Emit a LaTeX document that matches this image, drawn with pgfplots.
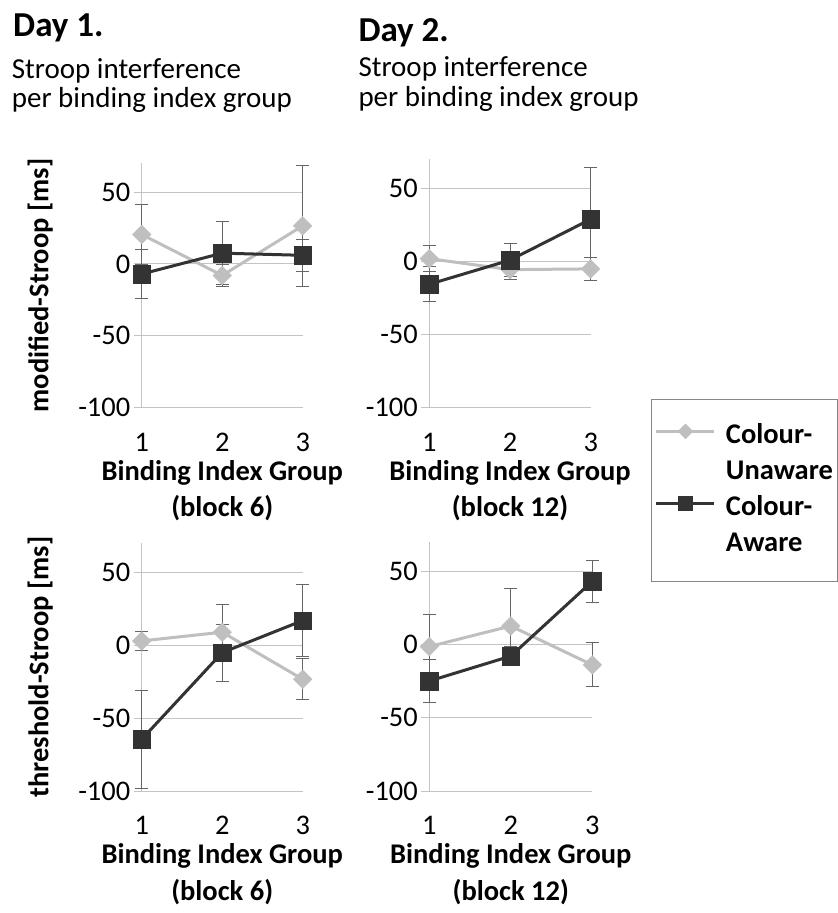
\documentclass[border=0pt]{standalone}
\usepackage{pgfplots}
\pgfplotsset{compat=1.18}
\usepackage{fontspec}
\setmainfont{Carlito}
\definecolor{lightc}{HTML}{BFBFBF}
\definecolor{darkc}{HTML}{333333}
\definecolor{gridc}{HTML}{C4C4C4}
\definecolor{errc}{HTML}{666666}
\definecolor{boxc}{HTML}{868686}

\pgfplotsset{
  panel/.style={
    scale only axis,
    xmin=1, xmax=3, ymin=-100, ymax=70,
    xtick={1,2,3}, xticklabels={1,2,3},
    ytick={-100,-50,0,50}, yticklabels={-100,-50,0,50},
    axis lines*=left,
    axis line style={draw=gridc, line width=1pt},
    ymajorgrids,
    grid style={draw=gridc, line width=1pt},
    tick align=outside,
    major tick length=8pt,
    ytick style={draw=gridc, line width=1pt},
    xtick style={draw=none},
    tick label style={font=\fontsize{28.4}{30}\selectfont},
    xticklabel style={yshift=-14pt},
    xlabel style={at={(axis description cs:0.5,0)}, anchor=north, align=center,
      font=\fontsize{28.5}{36.7}\selectfont\bfseries, yshift=-49pt},
    ylabel style={anchor=center, font=\fontsize{28.5}{30}\selectfont\bfseries},
    clip=false,
    legend image code/.code={%
      \draw[mark repeat=2,mark phase=2,#1,every mark/.append style={scale=0.8}]
        plot coordinates {(0pt,4pt) (29pt,4pt) (58pt,4pt)};},
  },
  unaware/.style={
    color=lightc, line width=3pt, mark=square*, mark size=6.6pt,
    mark options={solid, rotate=45, fill=lightc, draw=lightc, line width=0.4pt},
    error bars/.cd, y dir=both, y explicit,
    error bar style={draw=errc, line width=1pt},
    error mark options={rotate=90, draw=errc, line width=1pt, mark size=6.5pt},
  },
  aware/.style={
    color=darkc, line width=3pt, mark=square*, mark size=8.8pt,
    mark options={solid, fill=darkc, draw=darkc, line width=0.4pt},
    error bars/.cd, y dir=both, y explicit,
    error bar style={draw=errc, line width=1pt},
    error mark options={rotate=90, draw=errc, line width=1pt, mark size=6.5pt},
  },
}

\begin{document}
\begin{tikzpicture}
\path[use as bounding box] (0pt,0pt) rectangle (838pt,-913pt);

% titles
\node[anchor=base west, inner sep=0pt, font=\fontsize{35}{40}\selectfont\bfseries] at (13pt,-36.7pt) {Day 1.};
\node[anchor=base west, inner sep=0pt, font=\fontsize{29}{30}\selectfont] at (11.7pt,-78.3pt) {Stroop interference};
\node[anchor=base west, inner sep=0pt, font=\fontsize{29}{30}\selectfont] at (11.7pt,-107.3pt) {per binding index group};
\node[anchor=base west, inner sep=0pt, font=\fontsize{35}{40}\selectfont\bfseries] at (358.3pt,-41.7pt) {Day 2.};
\node[anchor=base west, inner sep=0pt, font=\fontsize{29}{30}\selectfont] at (358.3pt,-76.7pt) {Stroop interference};
\node[anchor=base west, inner sep=0pt, font=\fontsize{29}{30}\selectfont] at (358.3pt,-106.7pt) {per binding index group};

% Day 1 modified
\begin{axis}[panel, at={(141.7pt,-407.7pt)}, anchor=south west,
  width=161pt, height=244.4pt,
  xlabel={Binding Index Group\\(block 6)},
  ylabel={modified-Stroop [ms]},
  ylabel style={at={(axis description cs:-0.63,0.5)}}]
\addplot[unaware] table[x=x, y=y, y error=e] {
x y e
1 20.5 21
2 -8 7.5
3 26.5 42
};
\addplot[aware] table[x=x, y=y, y error=e] {
x y e
1 -7 17
2 7.5 22
3 6 11
};
\end{axis}

% Day 2 modified
\begin{axis}[panel, at={(429.3pt,-407.7pt)}, anchor=south west,
  width=161.4pt, height=248.4pt,
  xlabel={Binding Index Group\\(block 12)},
  legend style={at={(axis description cs:1.397,-0.038)}, anchor=north west,
    draw=none, fill=none, inner sep=0pt, row sep=0pt, column sep=6pt,
    nodes={inner ysep=0pt, inner xsep=4pt, text height=26pt, text depth=10pt,
      font=\fontsize{28.5}{30}\selectfont\bfseries}},
  legend cell align=left]
\addplot[unaware] table[x=x, y=y, y error=e] {
x y e
1 2 9
2 -5.5 7
3 -5 8
};
\addlegendentry{Colour-}
\addlegendimage{empty legend}
\addlegendentry{Unaware}
\addplot[aware] table[x=x, y=y, y error=e] {
x y e
1 -15.5 12
2 1 11.5
3 29 35.5
};
\addlegendentry{Colour-}
\addlegendimage{empty legend}
\addlegendentry{Aware}
\end{axis}

% Day 1 threshold
\begin{axis}[panel, at={(141.7pt,-791pt)}, anchor=south west,
  width=161pt, height=247.7pt,
  xlabel={Binding Index Group\\(block 6)},
  ylabel={threshold-Stroop [ms]},
  ylabel style={at={(axis description cs:-0.63,0.5)}}]
\addplot[unaware] table[x=x, y=y, y error=e] {
x y e
1 3 6.5
2 9 19
3 -23.3 14
};
\addplot[aware] table[x=x, y=y, y error=e] {
x y e
1 -64.5 33.5
2 -5 19.5
3 17 25
};
\end{axis}

% Day 2 threshold
\begin{axis}[panel, at={(429.3pt,-791pt)}, anchor=south west,
  width=163pt, height=249.3pt,
  xlabel={Binding Index Group\\(block 12)}]
\addplot[unaware] table[x=x, y=y, y error=e] {
x y e
1 -1.5 22
2 12.5 25.5
3 -14 15
};
\addplot[aware] table[x=x, y=y, y error=e] {
x y e
1 -25 14.5
2 -8 6.5
3 43 14.5
};
\end{axis}

% legend frame
\draw[boxc, line width=1pt] (651.7pt,-399pt) rectangle (837pt,-581.7pt);
\end{tikzpicture}
\end{document}
